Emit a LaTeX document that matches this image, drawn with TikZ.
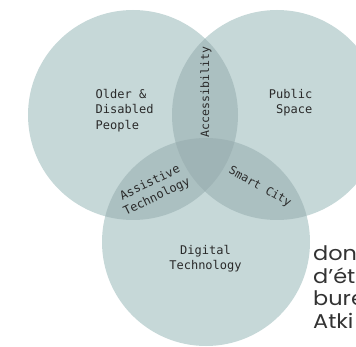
\documentclass[tikz,border=0pt]{standalone}
\usepackage{fontspec}
\newfontfamily\monof{DejaVu Sans Mono}
\newfontfamily\geof[FakeStretch=1.12]{Poppins}
\definecolor{one}{HTML}{C6D8D8}
\definecolor{two}{HTML}{ABC0C1}
\definecolor{three}{HTML}{9FB4B6}
\definecolor{ink}{HTML}{2A2A2A}
\definecolor{ink2}{HTML}{333333}
\begin{document}
\begin{tikzpicture}[x=1pt,y=-1pt,
  lbl/.style={font=\monof\fontsize{12}{15.5}\selectfont, text=ink, align=center, inner sep=0pt},
  side/.style={font=\geof\fontsize{20}{22}\selectfont, text=ink2, inner sep=0pt, anchor=base west}]
\useasboundingbox (0,0) rectangle (356,347);
\coordinate (L) at (133,115);
\coordinate (R) at (277,115);
\coordinate (B) at (206,242);
\fill[one] (L) circle (105pt);
\fill[one] (R) circle (105pt);
\fill[one] (B) circle (104pt);
\begin{scope}
  \clip (L) circle (105pt);
  \fill[two] (R) circle (105pt);
  \fill[two] (B) circle (104pt);
\end{scope}
\begin{scope}
  \clip (R) circle (105pt);
  \fill[two] (B) circle (104pt);
\end{scope}
\begin{scope}
  \clip (L) circle (105pt);
  \clip (R) circle (105pt);
  \fill[three] (B) circle (104pt);
\end{scope}
\node[lbl, anchor=west, align=left] (older) at (95.5,110.5) {Older \&\\Disabled\\People};
\node[lbl, anchor=east, align=right] (public) at (312.5,102.5) {Public\\Space};
\node[lbl, rotate=90, font=\monof\fontsize{11.5}{15}\selectfont] (acc) at (206,92) {Accessibility};
\node[lbl, rotate=26] (assist) at (153.5,190) {Assistive\\Technology};
\node[lbl, rotate=-29, font=\monof\fontsize{11.5}{15}\selectfont] (smart) at (260,187) {Smart City};
\node[lbl] (digital) at (205.5,258.5) {Digital\\Technology};
\node[side] (s1) at (313,261) {don};
\node[side] (s2) at (313,283.3) {d’ét};
\node[side] (s3) at (313,305.6) {bure};
\node[side] (s4) at (313,328) {Atki};
\end{tikzpicture}
\end{document}
